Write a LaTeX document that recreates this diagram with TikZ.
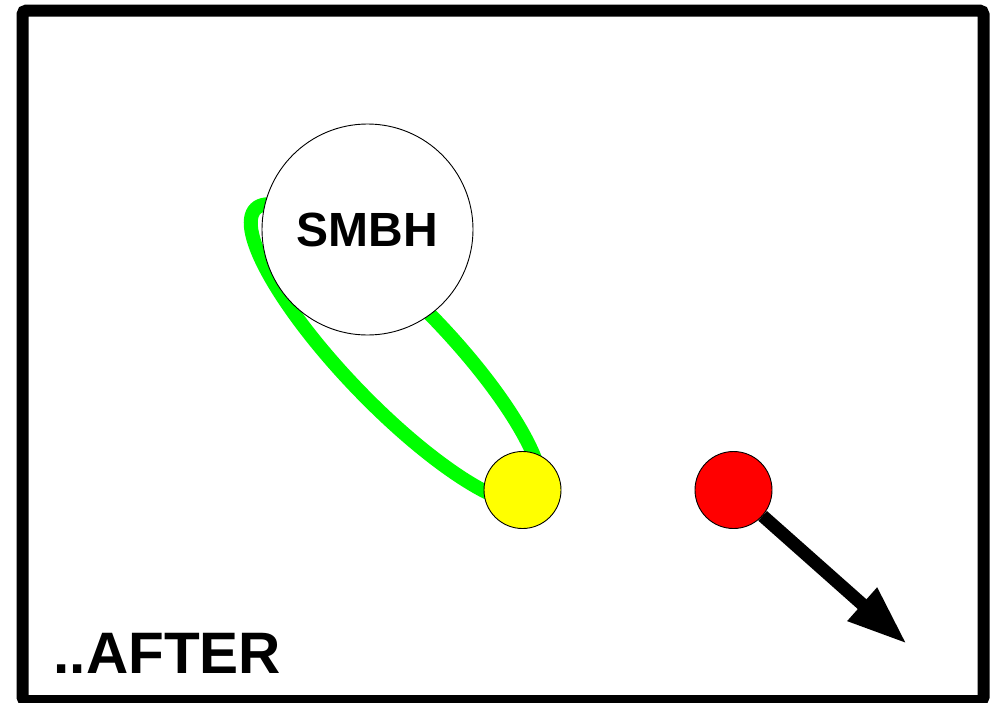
\documentclass[tikz,border=0pt]{standalone}
\usepackage{fontspec}
\setmainfont{Liberation Sans}
\usetikzlibrary{arrows.meta}
\definecolor{orbitgreen}{RGB}{0,255,0}
\definecolor{starred}{RGB}{255,0,0}
\definecolor{staryellow}{RGB}{255,255,0}
\begin{document}
\begin{tikzpicture}[x=1pt,y=-1pt,
  body/.style={circle, draw=black, line width=0.9pt, inner sep=0pt},
  star/.style={body, minimum size=77pt},
  orbit/.style={draw=orbitgreen, line width=14pt},
  label/.style={font=\fontsize{58.5}{62}\selectfont\bfseries, inner sep=0pt, anchor=base west},
  kick/.style={line width=13pt, -{Triangle[length=60pt, width=41pt]}}
]
\useasboundingbox (0,0) rectangle (994,702);
% frame
\draw[line width=12pt, rounded corners=4pt] (22.5,10.5) rectangle (983.5,701);
% orbit of the bound star
\draw[orbit, shift={(396,354)}, rotate=-46] (0,0) ellipse [x radius=202, y radius=52];
% black hole
\node[body, fill=white, minimum size=211pt,
      font=\fontsize{48}{52}\selectfont\bfseries] (smbh) at (367.5,229.5) {SMBH};
% stars
\node[star, fill=staryellow] (bound) at (522.5,490) {};
\node[star, fill=starred] (ejected) at (733.5,490) {};
% ejection velocity
\coordinate (tip) at (907,644);
\draw[kick] (ejected) -- (tip);
% caption
\node[label] (caption) at (53.5,673) {..AFTER};
\end{tikzpicture}
\end{document}
